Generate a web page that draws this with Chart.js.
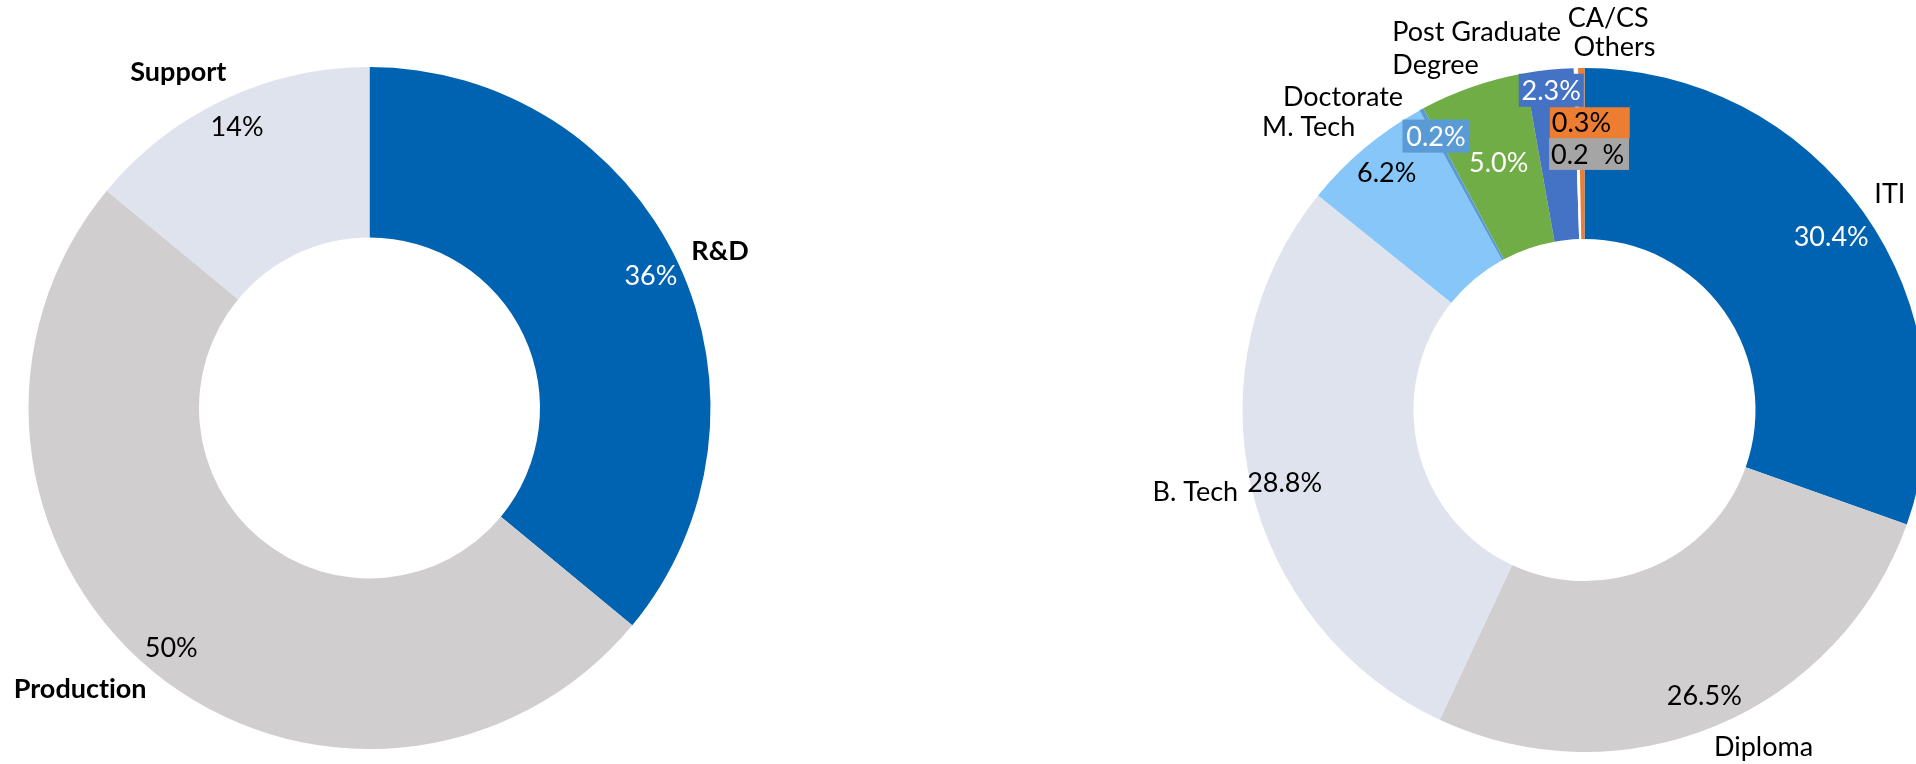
<!DOCTYPE html>
<html lang="en">
<head>
  <meta charset="UTF-8" />
  <title>Workforce by Function and Qualification</title>
  <script src="https://cdn.jsdelivr.net/npm/chart.js"></script>
  <style>
    html, body { margin: 0; padding: 0; background: #fff; overflow: hidden; }
    body { width: 1916px; height: 764px; position: relative; }
    canvas { position: absolute; top: 0; }
    #functionChart { left: 0; }
    #qualificationChart { left: 1100px; }
  </style>
</head>
<body>

  <canvas id="functionChart" width="800" height="764"></canvas>
  <canvas id="qualificationChart" width="1000" height="764"></canvas>

  <script>
    // Split by function (%)
    const functionNames = ['R&D', 'Production', 'Support'];
    const functionShare = [36, 50, 14];
    const functionColors = ['#0063b1', '#d0cece', '#dfe3ee'];

    // Split by qualification (%)
    const qualNames = ['ITI', 'Diploma', 'B. Tech', 'M. Tech', 'Doctorate', 'Post Graduate', 'Degree', 'Others', 'CA/CS'];
    const qualShare = [30.4, 26.5, 28.8, 6.2, 0.2, 5.0, 2.3, 0.2, 0.3];
    const qualColors = ['#0063b1', '#d0cece', '#dfe3ee', '#86c6f9', '#5b9bd5', '#70ad47', '#4472c4', '#ffffff', '#ed7d31'];

    // Draws the category name outside the ring and the value near the outer edge.
    // name: [dx, dy] from the slice's outer mid point; value: radius factor + nudge.
    const ringLabels = {
      id: 'ringLabels',
      afterDatasetsDraw(chart, args, opts) {
        const ctx = chart.ctx;
        const values = chart.data.datasets[0].data;
        const names = chart.data.labels;
        chart.getDatasetMeta(0).data.forEach((arc, i) => {
          const p = arc.getProps(['x', 'y', 'startAngle', 'endAngle', 'outerRadius'], true);
          const mid = (p.startAngle + p.endAngle) / 2;
          const at = (k, dx, dy) => [
            p.x + Math.cos(mid) * p.outerRadius * k + dx,
            p.y + Math.sin(mid) * p.outerRadius * k + dy
          ];
          const lay = opts.layout[i];
          ctx.save();
          ctx.textBaseline = 'middle';
          ctx.textRendering = 'optimizeSpeed'; // no "ti" ligature

          const [nx, ny] = at(1, lay.name[0], lay.name[1]);
          ctx.font = opts.nameFont;
          ctx.fillStyle = '#000';
          ctx.textAlign = 'center';
          ctx.fillText(names[i], nx, ny);

          const v = lay.value;
          const [vx, vy] = at(v.r, v.dx || 0, v.dy || 0);
          const text = values[i].toFixed(opts.decimals) + (v.gap || '') + '%';
          ctx.font = opts.valueFont;
          if (v.box) {
            ctx.fillStyle = v.box.fill;
            ctx.fillRect(vx - v.box.w / 2, vy - v.box.h / 2, v.box.w, v.box.h);
          }
          ctx.fillStyle = v.color || '#000';
          if (v.box && v.box.left) {
            ctx.textAlign = 'left';
            ctx.fillText(text, vx - v.box.w / 2 + 2, vy + 1);
          } else {
            ctx.fillText(text, vx, vy + 1);
          }
          ctx.restore();
        });
      }
    };

    function ringOptions(padding, labelOpts) {
      return {
        responsive: false,
        animation: false,
        cutout: '50%',
        layout: { padding: padding },
        plugins: {
          legend: { display: false },
          tooltip: { enabled: false },
          ringLabels: labelOpts
        }
      };
    }

    new Chart(document.getElementById('functionChart'), {
      type: 'doughnut',
      data: {
        labels: functionNames,
        datasets: [{
          data: functionShare,
          backgroundColor: functionColors,
          borderWidth: 0,
          hoverOffset: 0
        }]
      },
      options: ringOptions({ left: 28.5, top: 67, right: 89.5, bottom: 15 }, {
        nameFont: 'bold 27px Lato',
        valueFont: '27px Lato',
        decimals: 0,
        layout: [
          { name: [42, -12], value: { r: 0.912, color: '#fff' } },
          { name: [-72, 19], value: { r: 0.912 } },
          { name: [-46, -27], value: { r: 0.912 } }
        ]
      }),
      plugins: [ringLabels]
    });

    new Chart(document.getElementById('qualificationChart'), {
      type: 'doughnut',
      data: {
        labels: qualNames,
        datasets: [{
          data: qualShare,
          backgroundColor: qualColors,
          borderWidth: 0,
          hoverOffset: 0
        }]
      },
      options: ringOptions({ left: 142.5, top: 68, right: 173.5, bottom: 12 }, {
        nameFont: '27px Lato',
        valueFont: '27px Lato',
        decimals: 1,
        layout: [
          { name: [26, -18], value: { r: 0.883, color: '#fff' } },
          { name: [47, 22], value: { r: 0.9, dx: 1, dy: 1 } },
          { name: [-56, 5], value: { r: 0.9, dy: 3 } },
          { name: [-56, -21], value: { r: 0.9, dy: -1.5 } },
          { name: [-78.5, -12.5], value: { r: 0.911, color: '#fff', box: { fill: '#5b9bd5', w: 67, h: 33 } } },
          { name: [4, -55], value: { r: 0.767, color: '#fff' } },
          { name: [-113.5, -5], value: { r: 0.94, color: '#fff', box: { fill: '#4472c4', w: 65, h: 33 } } },
          { name: [38.6, -21], value: { r: 0.749, dx: 11, gap: '  ', box: { fill: '#a5a5a5', w: 80, h: 32, left: true } } },
          { name: [27, -50], value: { r: 0.84, dx: 8, box: { fill: '#ed7d31', w: 80, h: 31, left: true } } }
        ]
      }),
      plugins: [ringLabels]
    });
  </script>

</body>
</html>
